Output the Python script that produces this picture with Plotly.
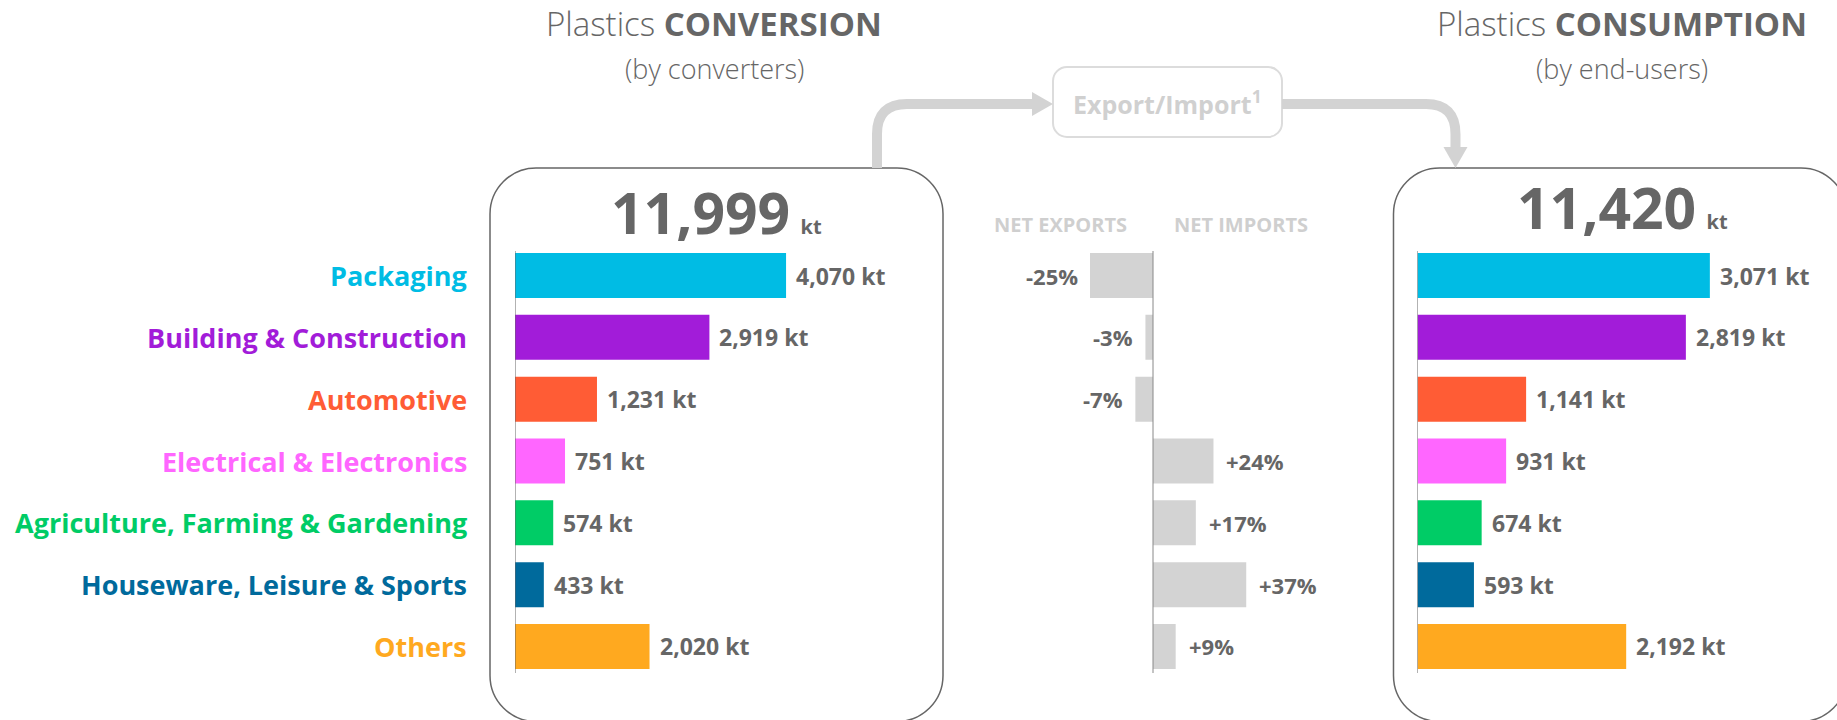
import plotly.graph_objects as go

# ---------------- data ----------------
categories = ["Packaging", "Building & Construction", "Automotive",
              "Electrical & Electronics", "Agriculture, Farming & Gardening",
              "Houseware, Leisure & Sports", "Others"]
conversion_kt = [4070, 2919, 1231, 751, 574, 433, 2020]
consumption_kt = [3071, 2819, 1141, 931, 674, 593, 2192]
net_trade_pct = [-25, -3, -7, 24, 17, 37, 9]
category_colors = ["#00BCE4", "#A21CD9", "#FF5C35", "#FF66FF",
                   "#00CC66", "#006A9C", "#FFA91F"]
conversion_total = 11999
consumption_total = 11420

# ---------------- geometry helpers ----------------
W, H = 1837, 720
FONT = "Open Sans"
GREY = "#666666"
LIGHT = "#d3d3d3"


def px(x):
    return x / W


def py(y):
    return 1 - y / H


def pt(x, y):
    return f"{px(x):.5f},{py(y):.5f}"


def rounded_rect(x0, y0, x1, y1, r):
    k = 0.5523 * r
    return (f"M {pt(x0 + r, y0)} L {pt(x1 - r, y0)} "
            f"C {pt(x1 - r + k, y0)} {pt(x1, y0 + r - k)} {pt(x1, y0 + r)} "
            f"L {pt(x1, y1 - r)} "
            f"C {pt(x1, y1 - r + k)} {pt(x1 - r + k, y1)} {pt(x1 - r, y1)} "
            f"L {pt(x0 + r, y1)} "
            f"C {pt(x0 + r - k, y1)} {pt(x0, y1 - r + k)} {pt(x0, y1 - r)} "
            f"L {pt(x0, y0 + r)} "
            f"C {pt(x0, y0 + r - k)} {pt(x0 + r - k, y0)} {pt(x0 + r, y0)} Z")


y_dom = [py(677.4), py(244.6)]
bar_w = 45 / 61.83

fig = go.Figure()

fig.add_trace(go.Bar(x=conversion_kt, y=categories, orientation="h",
                     marker=dict(color=category_colors, line=dict(width=0)),
                     width=bar_w, xaxis="x", yaxis="y", hoverinfo="skip"))
fig.add_trace(go.Bar(x=net_trade_pct, y=categories, orientation="h",
                     marker=dict(color=LIGHT, line=dict(width=0)),
                     width=bar_w, xaxis="x2", yaxis="y2", hoverinfo="skip"))
fig.add_trace(go.Bar(x=consumption_kt, y=categories, orientation="h",
                     marker=dict(color=category_colors, line=dict(width=0)),
                     width=bar_w, xaxis="x3", yaxis="y3", hoverinfo="skip"))

hidden = dict(showgrid=False, zeroline=False, showticklabels=False,
              showline=False, ticks="")
yax = dict(hidden, type="category", categoryorder="array",
           categoryarray=categories, range=[6.5, -0.5], domain=y_dom)

fig.update_layout(
    width=W, height=H, autosize=False,
    margin=dict(l=0, r=0, t=0, b=0),
    paper_bgcolor="white", plot_bgcolor="rgba(0,0,0,0)",
    showlegend=False, barmode="overlay",
    xaxis=dict(hidden, domain=[px(515), px(935)], range=[0, 420 / 0.0666], anchor="y"),
    xaxis2=dict(hidden, domain=[px(1052.2), px(1253.8)], range=[-40, 40], anchor="y2"),
    xaxis3=dict(hidden, domain=[px(1417.5), px(1800)], range=[0, 382.5 / 0.0952], anchor="y3"),
    yaxis=dict(yax, anchor="x"),
    yaxis2=dict(yax, anchor="x2"),
    yaxis3=dict(yax, anchor="x3"),
)

ann = []
val_font = dict(family=FONT, size=23, color=GREY)

# category labels
for c, col in zip(categories, category_colors):
    ann.append(dict(x=px(469), y=c, xref="paper", yref="y", xanchor="right",
                    yanchor="middle", showarrow=False, text=f"<b>{c}</b>",
                    font=dict(family=FONT, size=27, color=col)))

# value labels
for c, v in zip(categories, conversion_kt):
    ann.append(dict(x=v, y=c, xref="x", yref="y", xanchor="left", xshift=8,
                    showarrow=False, text=f"<b>{v:,} kt</b>", font=val_font))
for c, v in zip(categories, consumption_kt):
    ann.append(dict(x=v, y=c, xref="x3", yref="y3", xanchor="left", xshift=8,
                    showarrow=False, text=f"<b>{v:,} kt</b>", font=val_font))
for c, v in zip(categories, net_trade_pct):
    ann.append(dict(x=v, y=c, xref="x2", yref="y2",
                    xanchor="right" if v < 0 else "left",
                    xshift=-10 if v < 0 else 11,
                    showarrow=False, text=f"<b>{v:+d}%</b>",
                    font=dict(family=FONT, size=22, color=GREY)))

# titles
for cx, main, sub in [(714, "CONVERSION", "(by converters)"),
                      (1622, "CONSUMPTION", "(by end-users)")]:
    ann.append(dict(x=px(cx), y=py(24), xref="paper", yref="paper",
                    xanchor="center", yanchor="middle", showarrow=False,
                    text=f"Plastics <b>{main}</b>",
                    font=dict(family=FONT, size=33, color=GREY, weight=300)))
    ann.append(dict(x=px(cx), y=py(68), xref="paper", yref="paper",
                    xanchor="center", yanchor="middle", showarrow=False,
                    text=sub, font=dict(family=FONT, size=27, color=GREY, weight=300)))

# totals
for cx, cy, tot in [(716, 212, conversion_total), (1622, 207, consumption_total)]:
    ann.append(dict(x=px(cx), y=py(cy), xref="paper", yref="paper",
                    xanchor="center", yanchor="middle", showarrow=False,
                    text=f"<b>{tot:,}</b><span style='font-size:20px'><b>  kt</b></span>",
                    font=dict(family=FONT, size=57, color=GREY)))

# net exports / imports headers
for cx, t in [(1060, "NET EXPORTS"), (1241, "NET IMPORTS")]:
    ann.append(dict(x=px(cx), y=py(224), xref="paper", yref="paper",
                    xanchor="center", yanchor="middle", showarrow=False,
                    text=f"<b>{t}</b>", font=dict(family=FONT, size=20, color="#cfcfcf")))

# export/import label
ann.append(dict(x=px(1167), y=py(103), xref="paper", yref="paper",
                xanchor="center", yanchor="middle", showarrow=False,
                text="<b>Export/Import<sup>1</sup></b>",
                font=dict(family=FONT, size=25, color="#d0d0d0")))

fig.update_layout(annotations=ann)

shapes = []
# rounded panels
shapes.append(dict(type="path", xref="paper", yref="paper",
                   path=rounded_rect(490, 168, 943, 721.5, 46),
                   line=dict(color=GREY, width=1.5)))
shapes.append(dict(type="path", xref="paper", yref="paper",
                   path=rounded_rect(1393.5, 168, 1847, 721.5, 46),
                   line=dict(color=GREY, width=1.5)))
# export/import box
shapes.append(dict(type="path", xref="paper", yref="paper",
                   path=rounded_rect(1053, 67, 1282, 137, 14),
                   line=dict(color="#dcdcdc", width=2)))
# arrows
shapes.append(dict(type="path", xref="paper", yref="paper",
                   path=f"M {pt(877, 168)} L {pt(877, 134)} Q {pt(877, 104)} {pt(907, 104)} L {pt(1036, 104)}",
                   line=dict(color=LIGHT, width=10)))
shapes.append(dict(type="path", xref="paper", yref="paper",
                   path=f"M {pt(1032, 92)} L {pt(1053, 104)} L {pt(1032, 116)} Z",
                   fillcolor=LIGHT, line=dict(color=LIGHT, width=0)))
shapes.append(dict(type="path", xref="paper", yref="paper",
                   path=f"M {pt(1282, 104)} L {pt(1426, 104)} Q {pt(1455.5, 104)} {pt(1455.5, 134)} L {pt(1455.5, 149)}",
                   line=dict(color=LIGHT, width=10)))
shapes.append(dict(type="path", xref="paper", yref="paper",
                   path=f"M {pt(1443.5, 147)} L {pt(1467.5, 147)} L {pt(1455.5, 168)} Z",
                   fillcolor=LIGHT, line=dict(color=LIGHT, width=0)))
# zero axis lines
for xr, col in [("x", GREY), ("x2", "#888888"), ("x3", GREY)]:
    shapes.append(dict(type="line", xref=xr, yref="paper", x0=0, x1=0,
                       y0=py(673), y1=py(251), line=dict(color=col, width=1)))

fig.update_layout(shapes=shapes)

fig.write_html("out.html", config={"displayModeBar": False},
               post_script="document.body.style.margin='0';")
